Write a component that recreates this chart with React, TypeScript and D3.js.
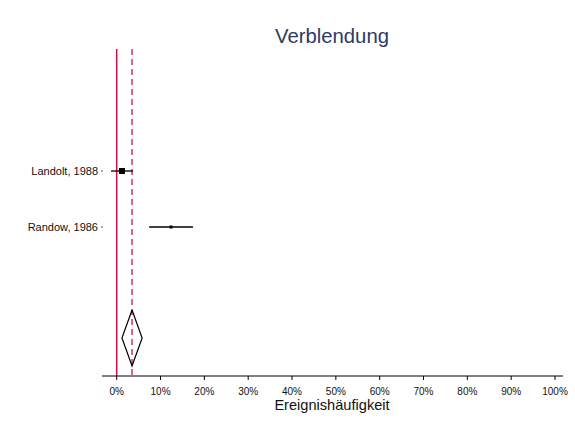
import React from "react";
import * as d3 from "d3";

const studies = ["Landolt, 1988", "Randow, 1986"];
const estimates = [0.012, 0.124];
const lowers = [-0.013, 0.074];
const uppers = [0.037, 0.174];
const weights = [6, 3];
const pooled = { est: 0.035, lo: 0.012, hi: 0.058 };
const xTicks = [0, 0.1, 0.2, 0.3, 0.4, 0.5, 0.6, 0.7, 0.8, 0.9, 1.0];

const W = 575;
const H = 426;

export default function App() {
  const x = d3.scaleLinear().domain([0, 1]).range([116.7, 555]);
  const y = d3.scalePoint<string>().domain(studies).range([171, 227]);
  const axisY = 376;
  const top = 49;
  const font = "'Liberation Sans', Arial, Helvetica, sans-serif";
  const diamondTop = 310;
  const diamondMid = 338;
  const diamondBot = 366;
  const diamond = d3.line()([
    [x(pooled.est), diamondTop],
    [x(pooled.hi), diamondMid],
    [x(pooled.est), diamondBot],
    [x(pooled.lo), diamondMid],
    [x(pooled.est), diamondTop],
  ]);
  return (
    <svg width={W} height={H} style={{ position: "absolute", left: 0, top: 0 }}>
      <rect width={W} height={H} fill="#fff" />
      <text x={332} y={43} textAnchor="middle" fontFamily={font} fontSize={20.3} fill="#2d3a66">
        Verblendung
      </text>
      <line x1={x(0)} x2={x(0)} y1={top} y2={axisY} stroke="#cc1142" strokeWidth={1.5} />
      <line x1={x(pooled.est)} x2={x(pooled.est)} y1={top} y2={axisY} stroke="#d64a77" strokeWidth={1.7} strokeDasharray="6,4" />
      {studies.map((s, i) => (
        <g key={s}>
          <text x={98} y={y(s)! + 4} textAnchor="end" fontFamily={font} fontSize={11} fill="#111">
            {s}
          </text>
          <line x1={101} x2={103} y1={y(s)} y2={y(s)} stroke="#333" strokeWidth={0.8} />
          <line x1={x(lowers[i])} x2={x(uppers[i])} y1={y(s)} y2={y(s)} stroke="#000" strokeWidth={1.3} />
          <rect x={x(estimates[i]) - weights[i] / 2} y={y(s)! - weights[i] / 2} width={weights[i]} height={weights[i]} fill="#000" />
        </g>
      ))}
      <path d={diamond!} fill="none" stroke="#000" strokeWidth={1.2} />
      <line x1={102} x2={563} y1={axisY} y2={axisY} stroke="#000" strokeWidth={1} />
      {xTicks.map((t) => (
        <g key={t}>
          <line x1={x(t)} x2={x(t)} y1={axisY} y2={axisY + 4} stroke="#000" strokeWidth={1} />
          <text x={x(t)} y={axisY + 19} textAnchor="middle" fontFamily={font} fontSize={10} fill="#111">
            {d3.format(".0%")(t)}
          </text>
        </g>
      ))}
      <text x={332} y={410} textAnchor="middle" fontFamily={font} fontSize={14.6} fill="#111">
        Ereignishäufigkeit
      </text>
    </svg>
  );
}
